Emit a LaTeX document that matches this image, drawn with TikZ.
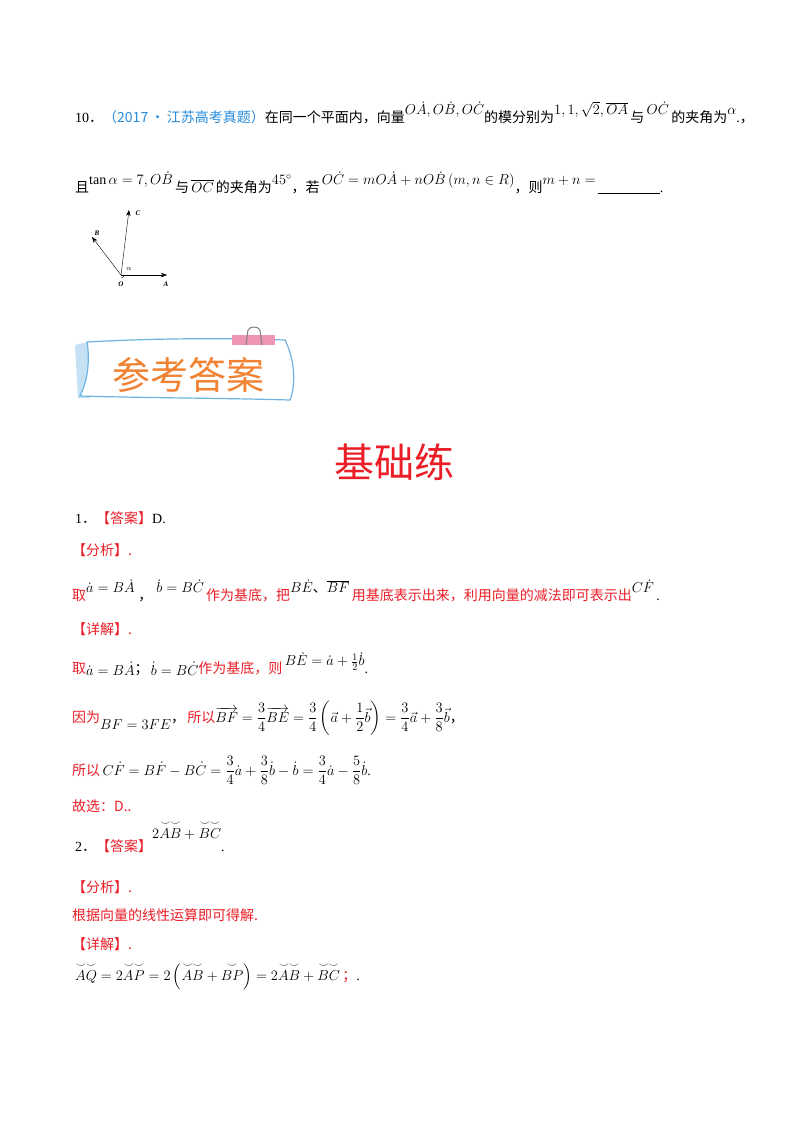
\documentclass[tikz,border=0pt]{standalone}
\usepackage{fontspec}
\usepackage{amsmath}
\setmainfont{Liberation Serif}
\newfontfamily\cjk{Noto Sans CJK SC}
\usetikzlibrary{arrows.meta}
\definecolor{rd}{RGB}{235,30,40}
\definecolor{bl}{RGB}{40,140,220}
\definecolor{og}{RGB}{240,130,50}
\definecolor{sky}{RGB}{110,180,225}
\definecolor{pk}{RGB}{240,150,180}
\newcommand{\up}[1]{\raisebox{1.1ex}{$#1$}}
\begin{document}
\begin{tikzpicture}[x=1pt,y=-1pt,
  line/.style={anchor=base west,inner sep=0pt,font=\fontsize{14}{16}\selectfont},
  lbl/.style={font=\fontsize{7}{8}\selectfont\itshape\bfseries,inner sep=1pt}]
\useasboundingbox (0,0) rectangle (800,1132);
\fill[white] (0,0) rectangle (800,1132);
% question 10
\node[line] (q1) at (75,122) {10{\cjk ．}{\cjk\color{bl}（2017\,•\,江苏高考真题）}{\cjk 在同一个平面内，向量}\up{O\dot{A},O\dot{B},O\dot{C}}{\cjk 的模分别为}\up{1,1,\sqrt{2},\overline{OA}}\,{\cjk 与}\,\up{O\dot{C}}\,{\cjk 的夹角为}\up{\alpha}.{\cjk ，}};
\node[line] (q2) at (75,192) {{\cjk 且}\up{\tan\alpha=7,O\dot{B}}\,{\cjk 与}\,$\overline{OC}$\,{\cjk 的夹角为}\up{45^{\circ}}{\cjk ，若}\,\up{O\dot{C}=mO\dot{A}+nO\dot{B}\left(m,n\in R\right)}{\cjk ，则}\up{m+n=}\,\rule[-1pt]{62pt}{0.5pt}.};
% figure
\coordinate (O) at (121,275);
\coordinate (A) at (167,275);
\coordinate (C) at (129,210);
\coordinate (B) at (92,237);
\draw[-{Stealth[length=6pt]},thin] (O) -- (A);
\draw[-{Stealth[length=6pt]},thin] (O) -- (C);
\draw[-{Stealth[length=6pt]},thin] (O) -- (B);
\draw[thin] (124,275) arc (0:80:3);
\node[lbl] (lo) at (121,284) {O};
\node[lbl] (la) at (166,284) {A};
\node[lbl] (lc) at (138,213) {C};
\node[lbl] (lb) at (97,233) {B};
\node[lbl] (lal) at (129,269) {$\alpha$};
% banner
\fill[sky!40] (75,345) -- (88,342) -- (90,398) -- (78,398) -- cycle;
\draw[sky,line width=1.2pt,fill=white] (87,342) .. controls (160,338) and (230,338) .. (285,340) .. controls (295,360) and (296,385) .. (290,400) .. controls (220,398) and (150,398) .. (80,396) .. controls (88,380) and (90,360) .. (87,342) -- cycle;
\fill[pk] (232,335) rectangle (275,345);
\draw[gray,line width=1pt] (246,345) -- (248,330) (262,345) -- (260,330);
\draw[gray,line width=1pt] (248,330) .. controls (250,326) and (258,326) .. (260,330);
\node[font={\cjk\fontsize{38}{40}\selectfont},text=og] (ban) at (188,375) {参考答案};
\node[font={\cjk\fontsize{40}{42}\selectfont},text=rd] (jcl) at (394,462) {基础练};
% answers
\node[line] (a1) at (75,523) {1{\cjk ．}{\cjk\color{rd}【答案】}D.};
\node[line,text=rd] (a2) at (72,555) {\cjk【分析】.};
\node[line] (a3) at (72,600) {{\cjk\color{rd}取}\up{\dot{a}=B\dot{A}}\;{\cjk ，}\;\up{\dot{b}=B\dot{C}}\,{\cjk\color{rd}作为基底，把}\up{B\dot{E}\text{\cjk 、}\overline{BF}}\,{\cjk\color{rd}用基底表示出来，利用向量的减法即可表示出}\up{C\dot{F}}\,.};
\node[line,text=rd] (a4) at (72,634) {\cjk【详解】.};
\node[line] (a5) at (72,673) {{\cjk\color{rd}取}\raisebox{-0.4ex}{$\dot{a}=B\dot{A}$}{\cjk ；}\,\raisebox{-0.4ex}{$\dot{b}=B\dot{C}$}{\cjk\color{rd}作为基底，则}\,\up{B\dot{E}=\dot{a}+\frac{1}{2}\dot{b}}.};
\node[line] (a6) at (72,722) {{\cjk\color{rd}因为}\raisebox{-1.2ex}{$BF=3FE$}{\cjk ，}\,{\cjk\color{rd}所以}$\overrightarrow{BF}=\dfrac{3}{4}\overrightarrow{BE}=\dfrac{3}{4}\left(\vec{a}+\dfrac{1}{2}\vec{b}\right)=\dfrac{3}{4}\vec{a}+\dfrac{3}{8}\vec{b}${\cjk ，}};
\node[line] (a7) at (72,775) {{\cjk\color{rd}所以}\,$C\dot{F}=B\dot{F}-B\dot{C}=\dfrac{3}{4}\dot{a}+\dfrac{3}{8}\dot{b}-\dot{b}=\dfrac{3}{4}\dot{a}-\dfrac{5}{8}\dot{b}$.};
\node[line,text=rd] (a8) at (72,811) {\cjk 故选：D..};
\node[line] (b1) at (75,851) {2{\cjk ．}{\cjk\color{rd}【答案】}\raisebox{2ex}{$2\overset{\smile\smile}{AB}+\overset{\smile\smile}{BC}$}.};
\node[line,text=rd] (b2) at (72,892) {\cjk【分析】.};
\node[line,text=rd] (b3) at (72,920) {\cjk 根据向量的线性运算即可得解.};
\node[line,text=rd] (b4) at (72,949) {\cjk【详解】.};
\node[line] (b5) at (75,980) {$\overset{\smile\smile}{AQ}=2\overset{\smile\smile}{AP}=2\left(\overset{\smile\smile}{AB}+\overset{\smile}{BP}\right)=2\overset{\smile\smile}{AB}+\overset{\smile\smile}{BC}$\,{\color{rd}\cjk ；}.};
\end{tikzpicture}
\end{document}
